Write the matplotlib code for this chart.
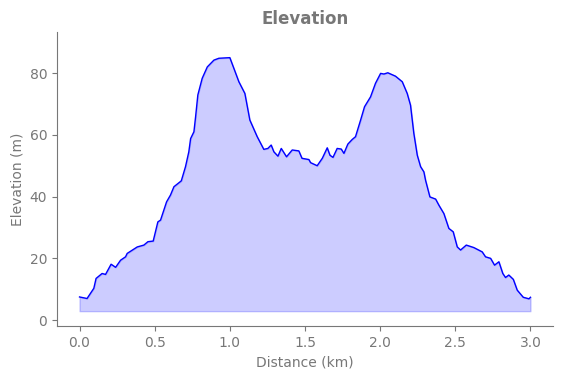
import matplotlib
matplotlib.use("Agg")
import matplotlib.pyplot as plt
import numpy as np

distance_km = [0.0, 0.05, 0.095, 0.11, 0.15, 0.173, 0.21, 0.24, 0.273, 0.306, 0.317, 0.384, 0.428, 0.455, 0.49,
               0.521, 0.539, 0.579, 0.605, 0.628, 0.677, 0.705, 0.727, 0.739, 0.761, 0.772, 0.787, 0.816, 0.85,
               0.894, 0.927, 1.0, 1.027, 1.06, 1.10, 1.133, 1.182, 1.226, 1.253, 1.275, 1.293, 1.32, 1.342, 1.377,
               1.415, 1.459, 1.48, 1.526, 1.537, 1.581, 1.615, 1.648, 1.666, 1.686, 1.714, 1.741, 1.759, 1.785,
               1.814, 1.836, 1.87, 1.896, 1.936, 1.969, 2.003, 2.025, 2.051, 2.102, 2.147, 2.18, 2.202, 2.224,
               2.247, 2.269, 2.291, 2.302, 2.331, 2.369, 2.391, 2.424, 2.457, 2.486, 2.513, 2.535, 2.573, 2.623,
               2.679, 2.701, 2.735, 2.761, 2.79, 2.816, 2.834, 2.856, 2.886, 2.912, 2.952, 2.99, 3.0]
elevation_m = [7.5, 7.0, 10.3, 13.5, 15.1, 14.8, 18.1, 17.1, 19.4, 20.5, 21.6, 23.7, 24.3, 25.4, 25.6,
               31.8, 32.4, 38.3, 40.5, 43.2, 45.1, 49.7, 54.5, 58.8, 61.0, 65.8, 72.9, 78.3, 82.0,
               84.2, 84.8, 85.0, 81.5, 77.2, 73.4, 64.8, 59.4, 55.3, 55.6, 56.7, 54.5, 53.1, 55.6, 52.9,
               55.1, 54.8, 52.4, 52.0, 51.0, 50.0, 52.4, 55.8, 53.4, 52.7, 55.6, 55.4, 54.0, 57.0,
               58.5, 59.4, 64.8, 69.1, 72.3, 76.7, 79.9, 79.7, 80.1, 79.0, 77.2, 73.4, 69.6, 60.5,
               53.4, 49.7, 48.0, 45.3, 39.9, 39.2, 37.2, 34.5, 29.7, 28.6, 23.7, 22.7, 24.3, 23.5,
               22.1, 20.5, 20.0, 17.8, 18.9, 15.1, 13.8, 14.6, 13.2, 9.7, 7.4, 6.9, 7.4]

x = np.array(distance_km)
y = np.array(elevation_m)
base = y.min() - 4

grey = "#777777"
fig = plt.figure(figsize=(5.62, 3.78), dpi=100)
ax = fig.add_axes([0.1014, 0.1376, 0.8826, 0.7777])
ax.fill_between(x, y, base, color="blue", alpha=0.2)
ax.plot(x, y, color="blue", linewidth=1)
ax.set_xlim(-0.15, 3.15)
ax.set_ylim(-1.9, 93.3)
ax.set_xticks([0.0, 0.5, 1.0, 1.5, 2.0, 2.5, 3.0])
ax.set_yticks([0, 20, 40, 60, 80])
ax.set_title("Elevation", fontsize=12, fontweight="bold", color=grey)
ax.set_xlabel("Distance (km)", color=grey, fontsize=10)
ax.set_ylabel("Elevation (m)", color=grey, fontsize=10)
for s in ["top", "right"]:
    ax.spines[s].set_visible(False)
for s in ["left", "bottom"]:
    ax.spines[s].set_color(grey)
ax.tick_params(colors=grey, labelcolor=grey)
fig.savefig("out.png", dpi=100)
